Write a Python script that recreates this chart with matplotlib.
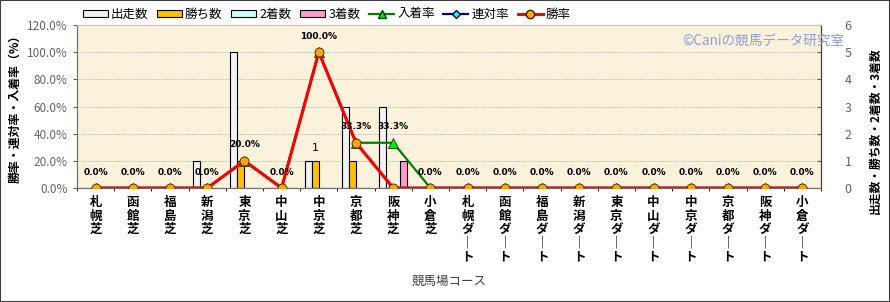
import matplotlib
matplotlib.use("Agg")
import matplotlib.pyplot as plt
import numpy as np
from matplotlib.patches import Patch, Rectangle
from matplotlib.lines import Line2D
from matplotlib.ticker import FuncFormatter, MultipleLocator

plt.rcParams['font.family'] = ['Noto Sans CJK JP', 'DejaVu Sans']

# data
courses = ["札幌芝", "函館芝", "福島芝", "新潟芝", "東京芝", "中山芝", "中京芝", "京都芝", "阪神芝", "小倉芝",
           "札幌ダート", "函館ダート", "福島ダート", "新潟ダート", "東京ダート", "中山ダート", "中京ダート",
           "京都ダート", "阪神ダート", "小倉ダート"]
runs = [0, 0, 0, 1, 5, 0, 1, 3, 3, 0, 0, 0, 0, 0, 0, 0, 0, 0, 0, 0]
wins = [0, 0, 0, 0, 1, 0, 1, 1, 0, 0, 0, 0, 0, 0, 0, 0, 0, 0, 0, 0]
seconds = [0] * 20
thirds = [0, 0, 0, 0, 0, 0, 0, 0, 1, 0, 0, 0, 0, 0, 0, 0, 0, 0, 0, 0]
win_rate = [0, 0, 0, 0, 20.0, 0, 100.0, 33.3, 0, 0, 0, 0, 0, 0, 0, 0, 0, 0, 0, 0]
rentai_rate = [0, 0, 0, 0, 20.0, 0, 100.0, 33.3, 0, 0, 0, 0, 0, 0, 0, 0, 0, 0, 0, 0]
place_rate = [0, 0, 0, 0, 20.0, 0, 100.0, 33.3, 33.3, 0, 0, 0, 0, 0, 0, 0, 0, 0, 0, 0]

bar_names = ["出走数", "勝ち数", "2着数", "3着数"]
bar_colors = ["#F2F2F2", "#FFC000", "#CCFFFF", "#FF99CC"]

fig = plt.figure(figsize=(8.9, 3.02), dpi=100)
ax = fig.add_axes([77 / 890, 1 - 188 / 302, 744 / 890, 163 / 302])
ax2 = ax.twinx()

x = np.arange(len(courses))
bw = 0.19
for i, (vals, c) in enumerate(zip([runs, wins, seconds, thirds], bar_colors)):
    ax2.bar(x + (i - 1.5) * bw, vals, bw, color=c, edgecolor="black", linewidth=0.8, zorder=2)

# 勝ち数 label at 中京
ax2.text(6 - 0.5 * bw, 1.47, "1", ha="center", va="center", fontsize=8, family="DejaVu Sans")

ax2.set_ylim(0, 6)
ax2.yaxis.set_major_locator(MultipleLocator(1))

# lines on the left axis, drawn above the bars
ax.set_zorder(ax2.get_zorder() + 1)
ax.patch.set_visible(False)
ax2.patch.set_visible(True)
ax2.patch.set_facecolor("#FBF2DC")

ax.plot(x, place_rate, color="#008000", lw=1.6, marker="^", ms=6.5, mfc="#00EE00", mec="#004000", mew=0.6, zorder=3)
ax.plot(x, rentai_rate, color="#000080", lw=1.6, marker="D", ms=4, mfc="#00FFFF", mec="#000040", zorder=4)
ax.plot(x, win_rate, color="#FF0000", lw=2.2, marker="o", ms=6.5, mfc="#FFA500", mec="#402000", mew=0.6, zorder=5)

for xi, v in zip(x, place_rate):
    ax.annotate("%.1f%%" % v, (xi, v), xytext=(0, 11.5), textcoords="offset points",
                ha="center", va="center", fontsize=6.5, fontweight="bold", family="DejaVu Sans", zorder=6)

ax.set_xlim(-0.5, len(courses) - 0.5)
ax.set_ylim(0, 120)
ax.yaxis.set_major_locator(MultipleLocator(20))
ax.yaxis.set_major_formatter(FuncFormatter(lambda v, p: "%.1f%%" % v))

# grid on the bar axis (behind everything)
ax2.set_xticks(np.arange(-0.5, len(courses), 1), minor=True)
ax2.grid(True, which="minor", axis="x", color="#A0A0A0", ls=(0, (1, 1.5)), lw=0.6, zorder=0)
ax2.grid(True, which="major", axis="y", color="#A0A0A0", ls=(0, (1, 1.5)), lw=0.6, zorder=0)
ax2.set_axisbelow(True)
ax2.tick_params(axis="x", which="minor", length=0)

vlabels = ["\n".join(c.replace("ー", "｜")) for c in courses]
ax.set_xticks(x)
ax.set_xticklabels(vlabels, fontsize=9, fontweight="bold", linespacing=1.05, va="top")
ax.tick_params(axis="x", length=0, pad=6)
ax.tick_params(axis="y", labelsize=8.5, labelcolor="#666666", length=3, color="#606060", pad=4)
ax2.tick_params(axis="y", labelsize=9, labelcolor="#666666", length=3, direction="in", color="#606060", pad=17)

ax.set_xlabel("競馬場コース", fontsize=9, color="#404040", labelpad=8)
fig.text(15 / 890, 1 - 106 / 302, "勝率・連対率・入着率（%）", rotation=90, ha="center", va="center",
         fontsize=8.6, fontweight="bold")
fig.text(875 / 890, 1 - 131 / 302, "出走数・勝ち数・2着数・3着数", rotation=90, ha="center", va="center",
         fontsize=8.5, fontweight="bold")

for a in (ax, ax2):
    a.spines["top"].set_color("#C8C8C8")
    a.spines["left"].set_color("#707070")
    a.spines["bottom"].set_color("#707070")
    a.spines["right"].set_color("#404040")

ax.text(1.032, 0.905, "©Caniの競馬データ研究室", transform=ax.transAxes, ha="right", va="center",
        fontsize=9.8, color="#8C9CF0", zorder=7)

handles = [Patch(facecolor=c, edgecolor="black", linewidth=0.8) for c in bar_colors]
handles += [
    Line2D([], [], color="#008000", lw=1.6, marker="^", ms=6, mfc="#00EE00", mec="#004000"),
    Line2D([], [], color="#000080", lw=1.6, marker="D", ms=4, mfc="#00FFFF", mec="#000040"),
    Line2D([], [], color="#FF0000", lw=2.2, marker="o", ms=6, mfc="#FFA500", mec="#402000"),
]
labels = bar_names + ["入着率", "連対率", "勝率"]
fig.legend(handles, labels, loc="upper left", bbox_to_anchor=(80 / 890, 1 - 5 / 302), ncol=7,
           frameon=False, fontsize=9, handlelength=2.0, handleheight=0.5, handletextpad=0.25,
           columnspacing=0.7, borderaxespad=0, borderpad=0.2)

fig.patches.append(Rectangle((0, 0), 1, 1, transform=fig.transFigure, fill=False,
                             edgecolor="#404040", lw=1.5))

fig.savefig("out.png", dpi=100)
